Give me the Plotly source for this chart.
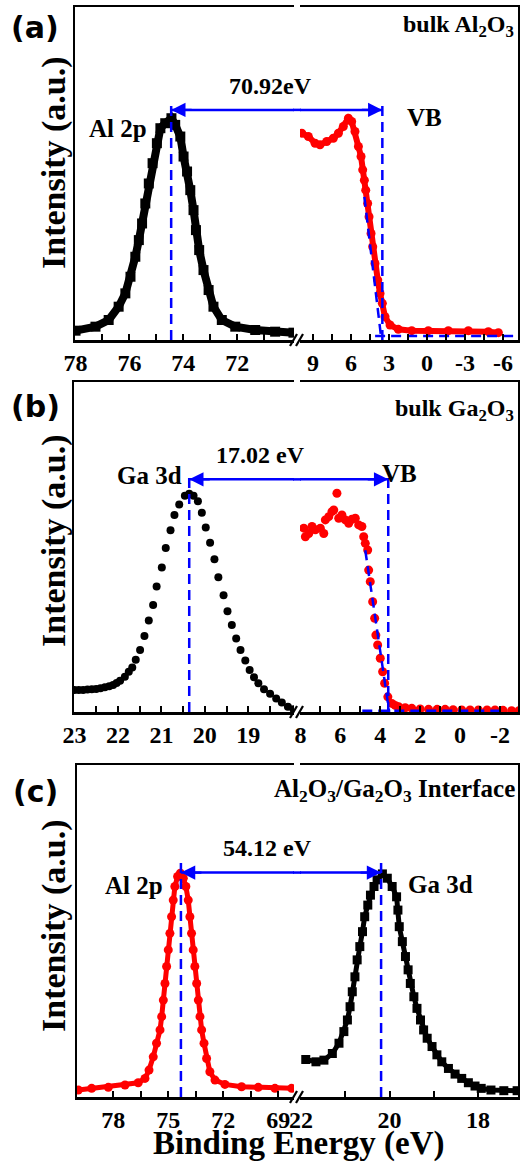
import plotly.graph_objects as go

# Figure fills the 520x1165 window; the body margin is removed in the page script below.
W, H, OFF = 520, 1165, 0

# ---------------- data ----------------
# Panel (a): bulk Al2O3
a_al2p_E = [78.00, 77.26, 76.77, 76.40, 76.15, 75.96, 75.78, 75.65, 75.53, 75.41, 75.28, 75.14, 74.98, 74.85,
            74.67, 74.44, 74.30, 74.11, 73.99, 73.86, 73.74, 73.62, 73.53, 73.41, 73.25, 73.06, 72.88, 72.57,
            72.07, 71.33, 70.59, 69.91]
a_al2p_I = [0.028, 0.040, 0.060, 0.100, 0.140, 0.190, 0.250, 0.300, 0.350, 0.410, 0.470, 0.531, 0.591, 0.636,
            0.651, 0.666, 0.646, 0.611, 0.551, 0.506, 0.450, 0.390, 0.330, 0.270, 0.210, 0.150, 0.100, 0.060,
            0.040, 0.030, 0.025, 0.022]
a_vb_E = [9.89, 9.37, 8.84, 8.45, 7.92, 7.40, 7.00, 6.61, 6.21, 5.95, 5.69, 5.42, 5.21, 5.08, 4.95, 4.84, 4.69,
          4.58, 4.42, 4.29, 4.11, 3.89, 3.71, 3.53, 3.32, 2.92, 2.27, 1.21, -0.10, -1.68, -3.26, -4.84, -5.63]
a_vb_I = [0.621, 0.611, 0.591, 0.586, 0.596, 0.606, 0.621, 0.641, 0.666, 0.656, 0.626, 0.581, 0.551, 0.511, 0.480,
          0.450, 0.410, 0.370, 0.320, 0.280, 0.230, 0.180, 0.140, 0.110, 0.070, 0.045, 0.032, 0.028, 0.028, 0.028,
          0.028, 0.025, 0.022]
a_edge_fit_E = [4.95, 3.60]
a_edge_fit_I = [0.43, 0.0]
a_base_fit_E = [4.10, -6.80]
a_base_fit_I = [0.012, 0.012]
a_core_pos, a_vb_pos = 74.45, 3.53
a_gap_text = "70.92eV"

# Panel (b): bulk Ga2O3
b_ga3d_E = [23.00, 22.90, 22.80, 22.70, 22.60, 22.50, 22.40, 22.30, 22.20, 22.11, 22.03,
            21.95, 21.84, 21.75, 21.67, 21.59, 21.49, 21.39, 21.29, 21.19, 21.11,
            20.99, 20.90, 20.79, 20.70, 20.59, 20.46, 20.36, 20.26, 20.16, 20.07,
            19.98, 19.88, 19.78, 19.69, 19.57, 19.48, 19.38, 19.28, 19.18, 19.07,
            18.97, 18.87, 18.77, 18.64, 18.50, 18.36, 18.23, 18.09, 17.96]
b_ga3d_I = [0.067, 0.067, 0.067, 0.068, 0.069, 0.070, 0.072, 0.075, 0.078, 0.082, 0.088,
            0.095, 0.107, 0.122, 0.135, 0.158, 0.188, 0.230, 0.277, 0.324, 0.380,
            0.438, 0.497, 0.551, 0.597, 0.629, 0.655, 0.661, 0.655, 0.639, 0.604,
            0.559, 0.513, 0.463, 0.408, 0.354, 0.305, 0.264, 0.223, 0.188, 0.156,
            0.127, 0.105, 0.087, 0.069, 0.055, 0.041, 0.029, 0.016, 0.008]
b_vb_E = [7.83, 7.75, 7.58, 7.42, 7.25, 7.00, 6.83, 6.75, 6.58, 6.42,
          6.33, 6.17, 6.08, 5.92, 5.75, 5.58, 5.42, 5.25, 5.08, 4.92,
          4.83, 4.75, 4.63, 4.58, 4.50, 4.38, 4.28, 4.22, 4.13, 4.00,
          3.88, 3.78, 3.62, 3.42, 3.25, 3.08, 2.75, 2.42, 2.00, 1.58,
          1.15, 0.75, 0.35, -0.08, -0.50, -0.92, -1.35, -1.75, -2.15, -2.58, -2.95]
b_vb_I = [0.557, 0.531, 0.541, 0.562, 0.552, 0.557, 0.541, 0.582, 0.592, 0.607,
          0.612, 0.663, 0.587, 0.597, 0.582, 0.572, 0.584, 0.587, 0.567, 0.562,
          0.531, 0.511, 0.491, 0.430, 0.395, 0.334, 0.284, 0.233, 0.203, 0.163,
          0.122, 0.087, 0.046, 0.026, 0.020, 0.016, 0.013, 0.011, 0.009, 0.008,
          0.008, 0.008, 0.007, 0.006, 0.006, 0.006, 0.006, 0.006, 0.005, 0.004, 0.004]
b_edge_fit_E = [4.75, 3.55]
b_edge_fit_I = [0.49, 0.0]
b_base_fit_E = [4.90, -2.10]
b_base_fit_I = [0.004, 0.004]
b_core_pos, b_vb_pos = 20.36, 3.60
b_gap_text = "17.02 eV"

# Panel (c): Al2O3/Ga2O3 interface
c_al2p_E = [79.91, 79.18, 78.27, 77.36, 76.64, 76.27, 76.05, 75.82, 75.64, 75.45,
            75.36, 75.27, 75.18, 75.09, 75.00, 74.91, 74.82, 74.73, 74.64, 74.49,
            74.34, 74.18, 74.04, 73.91, 73.82, 73.73, 73.64, 73.55, 73.45, 73.36,
            73.27, 73.18, 73.05, 72.91, 72.73, 72.45, 71.91, 71.00, 70.09, 69.18, 68.27]
c_al2p_I = [0.021, 0.026, 0.029, 0.036, 0.043, 0.056, 0.081, 0.121, 0.162, 0.202,
            0.242, 0.292, 0.342, 0.393, 0.443, 0.493, 0.543, 0.593, 0.634, 0.664,
            0.674, 0.659, 0.634, 0.593, 0.543, 0.493, 0.443, 0.393, 0.342, 0.292,
            0.242, 0.202, 0.162, 0.116, 0.076, 0.051, 0.038, 0.031, 0.029, 0.026, 0.026]
c_ga3d_E = [21.89, 21.66, 21.48, 21.29, 21.14, 21.03, 20.95, 20.89, 20.84, 20.78,
            20.73, 20.67, 20.61, 20.56, 20.49, 20.43, 20.35, 20.28, 20.16, 20.05,
            19.94, 19.84, 19.81, 19.78, 19.71, 19.64, 19.58, 19.53, 19.45, 19.38,
            19.30, 19.23, 19.15, 19.04, 18.93, 18.82, 18.67, 18.52, 18.37, 18.22,
            18.07, 17.93, 17.71, 17.42, 17.12]
c_ga3d_I = [0.113, 0.106, 0.111, 0.131, 0.162, 0.197, 0.232, 0.272, 0.317, 0.362,
            0.413, 0.453, 0.498, 0.543, 0.578, 0.608, 0.634, 0.654, 0.672, 0.659,
            0.634, 0.603, 0.563, 0.513, 0.468, 0.423, 0.383, 0.342, 0.302, 0.267,
            0.232, 0.202, 0.177, 0.152, 0.127, 0.106, 0.086, 0.069, 0.056, 0.043,
            0.033, 0.026, 0.021, 0.019, 0.019]
c_al_pos, c_ga_pos = 74.31, 20.19
c_gap_text = "54.12 eV"

# axis ranges and ticks
a_left_range, a_right_range = [78.02, 69.89], [10.03, -7.18]
b_left_range, b_right_range = [23.01, 17.95], [8.02, -2.90]
c_left_range, c_right_range = [79.98, 68.14], [22.02, 17.10]
a_left_ticks, a_left_minor = [78, 76, 74, 72], [77, 75, 73, 71]
a_right_ticks, a_right_minor = [9, 6, 3, 0, -3, -6], [7.5, 4.5, 1.5, -1.5, -4.5]
b_left_ticks, b_left_minor = [23, 22, 21, 20, 19], [22.5, 21.5, 20.5, 19.5, 18.5]
b_right_ticks, b_right_minor = [8, 6, 4, 2, 0, -2], [7, 5, 3, 1, -1]
c_left_ticks, c_left_minor = [78, 75, 72, 69], [76.5, 73.5, 70.5]
c_right_ticks, c_right_minor = [22, 20, 18], [21, 19]

# ---------------- layout geometry (page pixels) ----------------
BREAK_L, BREAK_R, X_END = 294, 300, 518
panels = {
    "a": dict(left=75, top=7, bottom=340),
    "b": dict(left=74, top=382, bottom=712),
    "c": dict(left=77, top=765, bottom=1097),
}


def px(x):
    return min(1.0, max(0.0, (x - OFF) / W))


def py(y):
    return min(1.0, max(0.0, 1 - (y - OFF) / H))


SERIF = "Liberation Serif"
SANS = "DejaVu Sans"
BLUE = "#0000FF"
RED = "#FF0000"
fig = go.Figure()


def fmt(v):
    return "%g" % v


def xaxis_def(dom, rng, ticks, minor, anchor):
    return dict(domain=dom, range=rng, anchor=anchor, showline=True, linewidth=2.5, linecolor="black",
                mirror=True, ticks="inside", ticklen=6, tickwidth=2, tickcolor="black",
                tickvals=ticks, ticktext=[fmt(t) for t in ticks],
                tickfont=dict(family=SERIF, size=24, color="black", weight="bold"),
                minor=dict(tickvals=minor, ticks="inside", ticklen=6, tickwidth=2, tickcolor="black"),
                showgrid=False, zeroline=False)


def yaxis_def(dom, anchor, side):
    return dict(domain=dom, range=[0, 1], anchor=anchor, side=side, showline=True, linewidth=2.5,
                linecolor="black", ticks="", showticklabels=False, showgrid=False, zeroline=False)


layout_axes = {}
shapes = []
annotations = []

spec = [
    ("a", 1, a_left_range, a_right_range, a_left_ticks, a_left_minor, a_right_ticks, a_right_minor),
    ("b", 3, b_left_range, b_right_range, b_left_ticks, b_left_minor, b_right_ticks, b_right_minor),
    ("c", 5, c_left_range, c_right_range, c_left_ticks, c_left_minor, c_right_ticks, c_right_minor),
]
for key, n, lr, rr, lt, lm, rt, rm in spec:
    p = panels[key]
    ydom = [py(p["bottom"]), py(p["top"])]
    xl = "xaxis" if n == 1 else "xaxis%d" % n
    yl = "yaxis" if n == 1 else "yaxis%d" % n
    xr, yr = "xaxis%d" % (n + 1), "yaxis%d" % (n + 1)
    idl = "" if n == 1 else str(n)
    idr = str(n + 1)
    layout_axes[xl] = xaxis_def([px(p["left"]), px(BREAK_L)], lr, lt, lm, "y" + idl)
    layout_axes[xr] = xaxis_def([px(BREAK_R), px(X_END)], rr, rt, rm, "y" + idr)
    layout_axes[yl] = yaxis_def(ydom, "x" + idl, "left")
    layout_axes[yr] = yaxis_def(ydom, "x" + idr, "right")
    # break marks "//"
    b = p["bottom"]
    for dx in (0, 6):
        shapes.append(dict(type="line", xref="paper", yref="paper", x0=px(290 + dx), y0=py(b + 6),
                           x1=px(297 + dx), y1=py(b - 6), line=dict(color="black", width=2.2)))


def add(x, y, xa, ya, color, symbol, size, line=True, lw=6):
    fig.add_trace(go.Scatter(
        x=x, y=y, xaxis=xa, yaxis=ya, mode="lines+markers" if line else "markers",
        marker=dict(color=color, symbol=symbol, size=size, line=dict(width=0)),
        line=dict(color=color, width=lw), showlegend=False, hoverinfo="skip"))


def dashed(x, y, xa, ya):
    fig.add_trace(go.Scatter(x=x, y=y, xaxis=xa, yaxis=ya, mode="lines",
                             line=dict(color=BLUE, width=2.5, dash="10px,6px"),
                             showlegend=False, hoverinfo="skip"))


# panel (a)
add(a_al2p_E, a_al2p_I, "x", "y", "black", "square", 10, True, 8)
add(a_vb_E, a_vb_I, "x2", "y2", RED, "circle", 9, True, 6)
dashed([a_core_pos, a_core_pos], [0, 0.716], "x", "y")
dashed([a_vb_pos, a_vb_pos], [0, 0.716], "x2", "y2")
dashed(a_edge_fit_E, a_edge_fit_I, "x2", "y2")
dashed(a_base_fit_E, a_base_fit_I, "x2", "y2")

# panel (b)
add(b_ga3d_E, b_ga3d_I, "x3", "y3", "black", "circle", 8, False)
add(b_vb_E, b_vb_I, "x4", "y4", RED, "circle", 9, False)
dashed([b_core_pos, b_core_pos], [0, 0.712], "x3", "y3")
dashed([b_vb_pos, b_vb_pos], [0, 0.712], "x4", "y4")
dashed(b_edge_fit_E, b_edge_fit_I, "x4", "y4")
dashed(b_base_fit_E, b_base_fit_I, "x4", "y4")

# panel (c)
add(c_al2p_E, c_al2p_I, "x5", "y5", RED, "circle", 9, True, 5)
add(c_ga3d_E, c_ga3d_I, "x6", "y6", "black", "square", 9, True, 5)
dashed([c_al_pos, c_al_pos], [0, 0.714], "x5", "y5")
dashed([c_ga_pos, c_ga_pos], [0, 0.714], "x6", "y6")

# double arrows spanning the axis break
arrow_specs = [
    ("x", "y", "x2", "y2", a_core_pos, a_vb_pos, 0.691, a_left_range, a_right_range),
    ("x3", "y3", "x4", "y4", b_core_pos, b_vb_pos, 0.705, b_left_range, b_right_range),
    ("x5", "y5", "x6", "y6", c_al_pos, c_ga_pos, 0.676, c_left_range, c_right_range),
]
for xa, ya, xb, yb, e1, e2, yv, lr, rr in arrow_specs:
    ln = dict(color=BLUE, width=2.5)
    shapes.append(dict(type="line", xref=xa, yref=ya, x0=e1, x1=lr[1], y0=yv, y1=yv, line=ln))
    shapes.append(dict(type="line", xref="paper", yref=ya, x0=px(BREAK_L) - 0.002, x1=px(BREAK_R) + 0.002,
                       y0=yv, y1=yv, line=ln))
    shapes.append(dict(type="line", xref=xb, yref=yb, x0=rr[0], x1=e2, y0=yv, y1=yv, line=ln))
    annotations.append(dict(x=e1, y=yv, xref=xa, yref=ya, ax=22, ay=0, text="", showarrow=True,
                            arrowhead=2, arrowsize=1.3, arrowwidth=2.2, arrowcolor=BLUE))
    annotations.append(dict(x=e2, y=yv, xref=xb, yref=yb, ax=-22, ay=0, text="", showarrow=True,
                            arrowhead=2, arrowsize=1.3, arrowwidth=2.2, arrowcolor=BLUE))


def text(t, x, y, size, xanchor="center", family=SERIF, angle=0):
    annotations.append(dict(text=t, x=px(x), y=py(y), xref="paper", yref="paper", showarrow=False,
                            xanchor=xanchor, yanchor="middle", textangle=angle,
                            font=dict(family=family, size=size, color="black", weight="bold")))


text("(a)", 35, 27, 30, family=SANS)
text("(b)", 35, 406, 30, family=SANS)
text("(c)", 35, 792, 30, family=SANS)
text("bulk Al<sub>2</sub>O<sub>3</sub>", 516, 26, 24, xanchor="right")
text("bulk Ga<sub>2</sub>O<sub>3</sub>", 516, 410, 24, xanchor="right")
text("Al<sub>2</sub>O<sub>3</sub>/Ga<sub>2</sub>O<sub>3</sub> Interface", 517, 790, 25, xanchor="right")
text(a_gap_text, 270, 86, 24)
text(b_gap_text, 260, 455, 24)
text(c_gap_text, 267, 848, 24)
text("Al 2p", 118, 129, 25)
text("VB", 424, 117, 25)
text("Ga 3d", 149, 476, 25)
text("VB", 399, 474, 25)
text("Al 2p", 134, 885, 25)
text("Ga 3d", 440, 884, 25)
for yc in (163, 541, 926):
    text("Intensity (a.u.)", 54, yc, 34, angle=-90)
text("Binding Energy (eV)", 299, 1143, 33)

fig.update_layout(width=W, height=H, margin=dict(l=0, r=0, t=0, b=0), template="none",
                  paper_bgcolor="white", plot_bgcolor="white", showlegend=False,
                  hovermode=False, dragmode=False,
                  shapes=shapes, annotations=annotations, **layout_axes)

fig.write_html("out.html", config={"displayModeBar": False, "staticPlot": True},
               post_script="document.body.style.margin='0';document.body.style.padding='0';"
                           "document.body.style.overflow='hidden';")
